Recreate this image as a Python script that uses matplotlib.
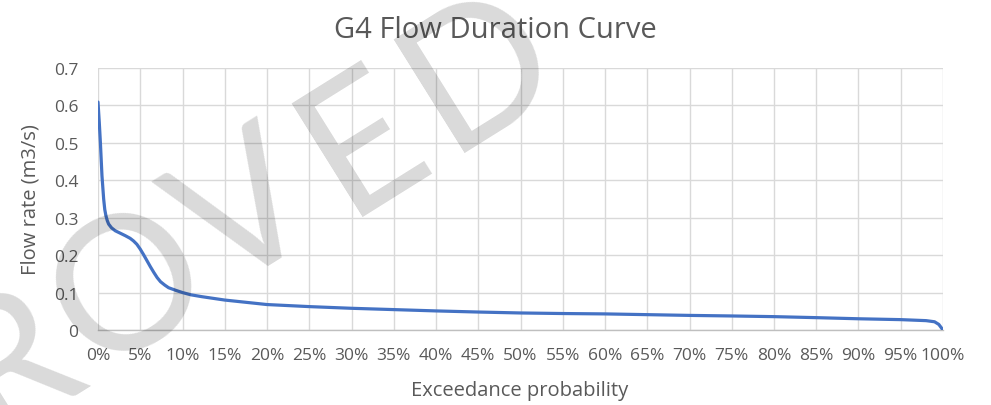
import matplotlib
matplotlib.use("Agg")
import math
import matplotlib.pyplot as plt

# Data
exceedance_pct = [0, 0.15, 0.28, 0.47, 0.67, 0.8, 0.94, 1.1, 1.26, 1.6, 2.05, 2.6, 3.23, 3.8,
                  4.2, 4.6, 5.0, 5.4, 5.8, 6.2, 6.6, 7.0, 7.4, 7.9, 8.35, 9.2, 10, 11, 12.3,
                  13.5, 15, 17.5, 20, 25, 30, 35, 40, 45, 50, 55, 60, 65, 70, 75, 80, 85,
                  90, 95, 98, 99, 99.5, 100]
flow_rate = [0.609, 0.555, 0.502, 0.412, 0.350, 0.322, 0.305, 0.292, 0.283, 0.273, 0.265,
             0.259, 0.252, 0.245, 0.238, 0.229, 0.216, 0.201, 0.185, 0.169, 0.154, 0.140,
             0.129, 0.120, 0.113, 0.106, 0.100, 0.094, 0.089, 0.085, 0.080, 0.074, 0.068,
             0.0625, 0.058, 0.0545, 0.051, 0.048, 0.0455, 0.044, 0.043, 0.041, 0.039,
             0.0375, 0.0357, 0.033, 0.030, 0.0277, 0.025, 0.022, 0.015, 0.0]
x_ticks = list(range(0, 101, 5))
y_ticks = [0, 0.1, 0.2, 0.3, 0.4, 0.5, 0.6, 0.7]
watermark_letters = list("ROVED")

plt.rcParams['font.family'] = ['Open Sans', 'DejaVu Sans']
text_col = '#595959'
W, H = 991, 406

fig = plt.figure(figsize=(W/100, H/100), dpi=100)
ax = fig.add_axes([98/W, 1-331/H, (943-98)/W, (331-69)/H])

ax.plot(exceedance_pct, flow_rate, color='#4472C4', lw=2.3, solid_capstyle='round',
        solid_joinstyle='round', zorder=3)

ax.set_xlim(0, 100)
ax.set_ylim(0, 0.7)
ax.set_xticks(x_ticks)
ax.set_xticklabels([f"{t}%" for t in x_ticks])
ax.set_yticks(y_ticks)
ax.set_yticklabels(["0" if t == 0 else f"{t:.1f}" for t in y_ticks])
ax.grid(True, color='#d9d9d9', lw=1.0, zorder=0)
ax.set_axisbelow(True)
for s in ['top', 'right', 'left']:
    ax.spines[s].set_visible(False)
ax.spines['bottom'].set_color('#bfbfbf')
ax.spines['bottom'].set_linewidth(1.0)
ax.tick_params(length=0, labelsize=12.5, colors=text_col)
ax.tick_params(axis='x', pad=12)
ax.tick_params(axis='y', pad=14)

fig.text(520/W, 1-391/H, 'Exceedance probability', ha='center', va='center',
         fontsize=14.5, color=text_col)
fig.text(31/W, 1-200/H, 'Flow rate (m3/s)', ha='center', va='center', rotation=90,
         fontsize=14.5, color=text_col)
fig.text(0.5, 1-31/H, 'G4 Flow Duration Curve', ha='center', va='center',
         fontsize=21, color=text_col)

# Watermark (letters placed along a tilted baseline)
ang = 32.0
step = 138
cx, cy = 305, 180
ux, uy = math.cos(math.radians(ang)), math.sin(math.radians(ang))
for i, ch in enumerate(watermark_letters):
    k = i - 2.5
    px = cx + k * step * ux
    py = cy - k * step * uy
    fig.text(px/W, 1-py/H, ch, ha='center', va='center', rotation=ang,
             rotation_mode='anchor', fontsize=134, color='black', alpha=0.15,
             zorder=10, family=['Lato', 'DejaVu Sans'])

fig.savefig('out.png', dpi=100)
